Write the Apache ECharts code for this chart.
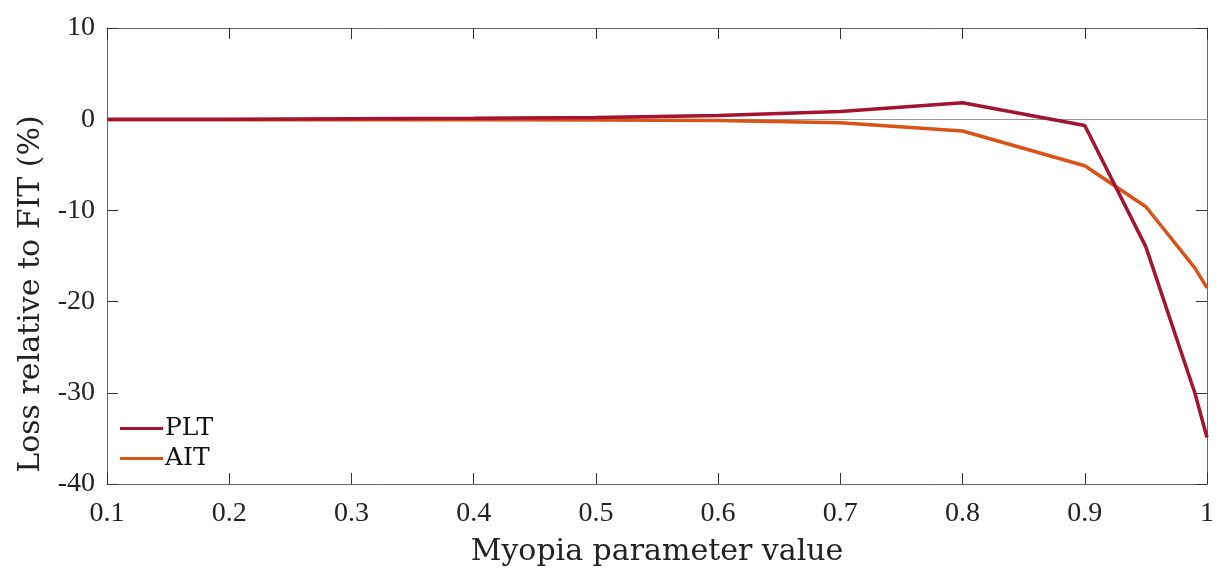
<!DOCTYPE html>
<html><head><meta charset="utf-8">
<script src="https://cdn.jsdelivr.net/npm/echarts@6/dist/echarts.min.js"></script>
<style>html,body{margin:0;padding:0;background:#fff}#c{width:1218px;height:572px}</style>
</head><body><div id="c"></div>
<script>
const xValues = [0.1, 0.2, 0.3, 0.4, 0.5, 0.6, 0.7, 0.8, 0.9, 0.95, 0.99, 1.0];
const pltValues = [0.0, 0.0, 0.05, 0.1, 0.2, 0.4, 0.85, 1.8, -0.7, -14.0, -30.0, -34.9];
const aitValues = [-0.05, -0.05, -0.05, -0.05, -0.08, -0.15, -0.4, -1.3, -5.1, -9.6, -16.3, -18.5];
const seriesNames = ['PLT', 'AIT'];
const seriesColors = ['#A2142F', '#D95319'];

const tickFont = 'Liberation Serif, serif';
const nameFont = 'DejaVu Serif, serif';
const axisColor = '#666';
const tickColor = '#333';
const chart = echarts.init(document.getElementById('c'));
const pair = (xs, ys) => xs.map((x, i) => [x, ys[i]]);
const lineOf = () => ({ show: true, onZero: false, lineStyle: { color: axisColor, width: 1 } });
const tickOf = () => ({ show: true, inside: true, length: 11, lineStyle: { color: tickColor } });
chart.setOption({
  animation: false,
  backgroundColor: '#fff',
  grid: { left: 107, right: 11, top: 28, bottom: 85, containLabel: false },
  legend: {
    orient: 'vertical', left: 120, top: 416, padding: 0, itemWidth: 43, itemHeight: 3, itemGap: 5,
    icon: 'rect',
    textStyle: { fontFamily: nameFont, fontSize: 25, color: '#111', padding: [0, 0, 0, -3] },
    data: seriesNames
  },
  xAxis: [{
    type: 'value', min: 0.1, max: 1, interval: 0.1,
    name: 'Myopia parameter value', nameLocation: 'middle', nameGap: 53,
    nameTextStyle: { fontFamily: nameFont, fontSize: 30, color: '#222' },
    axisLine: lineOf(), axisTick: tickOf(),
    axisLabel: { fontFamily: tickFont, fontSize: 28, color: '#222', margin: 16,
      formatter: v => (Math.round(v * 10) / 10).toString() },
    splitLine: { show: false }
  }, {
    type: 'value', min: 0.1, max: 1, interval: 0.1, position: 'top',
    axisLine: lineOf(), axisTick: tickOf(),
    axisLabel: { show: false }, splitLine: { show: false }
  }],
  yAxis: [{
    type: 'value', min: -40, max: 10, interval: 10,
    name: 'Loss relative to FIT (%)', nameLocation: 'middle', nameGap: 61,
    nameTextStyle: { fontFamily: nameFont, fontSize: 30, color: '#222', padding: [0, 76, 0, 0] },
    axisLine: lineOf(), axisTick: tickOf(),
    axisLabel: { fontFamily: tickFont, fontSize: 28, color: '#222', margin: 12 },
    splitLine: { show: false }
  }, {
    type: 'value', min: -40, max: 10, interval: 10, position: 'right',
    axisLine: lineOf(), axisTick: tickOf(),
    axisLabel: { show: false }, splitLine: { show: false }
  }],
  series: [{
    name: seriesNames[0], type: 'line', data: pair(xValues, pltValues),
    showSymbol: false, symbol: 'none', color: seriesColors[0],
    lineStyle: { width: 3.5, color: seriesColors[0] }, z: 3,
    markLine: { silent: true, symbol: 'none', label: { show: false },
      lineStyle: { color: '#999', width: 1.2, type: 'solid' }, data: [{ yAxis: 0 }], z: 1 }
  }, {
    name: seriesNames[1], type: 'line', data: pair(xValues, aitValues),
    showSymbol: false, symbol: 'none', color: seriesColors[1],
    lineStyle: { width: 3.5, color: seriesColors[1] }, z: 2
  }]
});
</script></body></html>
